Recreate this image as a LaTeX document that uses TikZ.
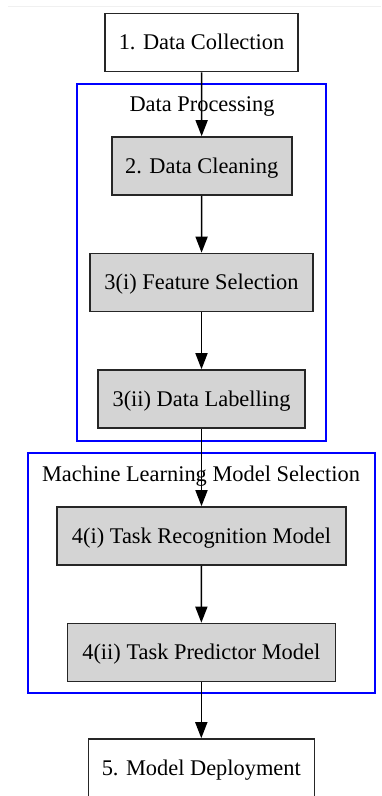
\documentclass[tikz,border=0pt]{standalone}
\usepackage{fontspec}
\setmainfont{Liberation Serif}
\usetikzlibrary{arrows.meta}
\begin{document}
\begin{tikzpicture}[x=1pt,y=-1pt,
  every node/.style={font=\fontsize{22.4}{26}\selectfont,text height=14.6pt,text depth=0pt,inner sep=0pt},
  stepbox/.style={draw=black!85,line width=1.6pt,minimum height=58pt,fill=white},
  graybox/.style={stepbox,fill=black!17},
  cluster/.style={draw=blue,line width=1.6pt},
  flow/.style={line width=1.6pt,-{Triangle[length=16pt,width=12pt]}}]
\useasboundingbox (0,0) rectangle (381,796);
\draw[black!6,line width=1pt] (8,6) -- (381,6);
% clusters
\draw[cluster] (77,84) rectangle (326,441);
\draw[cluster] (28,453) rectangle (375,693);
\node (lab1) at (202,104.5) {Data Processing};
\node (lab2) at (201,474) {Machine Learning Model Selection};
% nodes
\node[stepbox,minimum width=193pt] (n1) at (201.5,42.5) {1. Data Collection};
\node[graybox,minimum width=180pt] (n2) at (201.7,166) {2. Data Cleaning};
\node[graybox,minimum width=223pt] (n3) at (201.5,282.5) {3(i) Feature Selection};
\node[graybox,minimum width=207pt] (n4) at (201.5,399) {3(ii) Data Labelling};
\node[graybox,minimum width=289pt] (n5) at (201.5,536) {4(i) Task Recognition Model};
\node[graybox,minimum width=268pt] (n6) at (201.3,652.5) {4(ii) Task Predictor Model};
\node[stepbox,minimum width=226pt] (n7) at (201.3,768) {5. Model Deployment};
% arrows
\draw[flow] (n1) -- (n2);
\draw[flow] (n2) -- (n3);
\draw[flow] (n3) -- (n4);
\draw[flow] (n4) -- (n5);
\draw[flow] (n5) -- (n6);
\draw[flow] (n6) -- (n7);
\end{tikzpicture}
\end{document}
